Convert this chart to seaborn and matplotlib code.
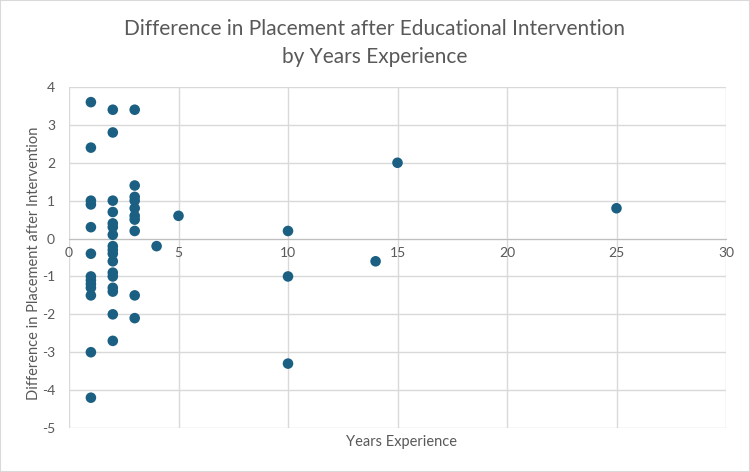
import seaborn as sns
import matplotlib.pyplot as plt
import pandas as pd

# data
years = [1] * 13 + [2] * 17 + [3] * 10 + [4, 5, 10, 10, 10, 14, 15, 25]
diff = [3.6, 2.4, 1.0, 0.9, 0.3, -0.4, -1.0, -1.1, -1.2, -1.3, -1.5, -3.0, -4.2,
        3.4, 2.8, 1.0, 0.7, 0.4, 0.3, 0.1, -0.2, -0.3, -0.4, -0.6, -0.9, -1.0, -1.3, -1.4, -2.0, -2.7,
        3.4, 1.4, 1.1, 1.0, 0.8, 0.6, 0.5, 0.2, -1.5, -2.1,
        -0.2, 0.6, 0.2, -1.0, -3.3, -0.6, 2.0, 0.8]
x_ticks = [0, 5, 10, 15, 20, 25, 30]
y_ticks = [4, 3, 2, 1, 0, -1, -2, -3, -4, -5]

df = pd.DataFrame({'years': years, 'diff': diff})

sns.set_style('white')
plt.rcParams['font.family'] = ['Lato', 'DejaVu Sans']

fig = plt.figure(figsize=(7.5, 4.72), dpi=100)
ax = fig.add_axes([0.092, 0.0932, 0.876, 0.7225])

sns.scatterplot(data=df, x='years', y='diff', ax=ax, color='#1b5f83',
                s=58, edgecolor='none', zorder=3)

ax.set_xlim(0, 30)
ax.set_ylim(-5, 4)
ax.set_xticks(x_ticks)
ax.set_yticks(y_ticks)
ax.grid(True, color='#d9d9d9', linewidth=1)
ax.set_axisbelow(True)

for s in ['top', 'right', 'left']:
    ax.spines[s].set_visible(False)
ax.spines['bottom'].set_position(('data', 0))
ax.spines['bottom'].set_color('#bfbfbf')
ax.spines['bottom'].set_zorder(2)

ax.tick_params(axis='both', length=0, labelsize=10, labelcolor='#595959')
ax.tick_params(axis='x', pad=6)
ax.tick_params(axis='y', pad=10)
ax.set_yticklabels([str(v) for v in y_ticks])

ax.set_xlabel('')
ax.set_ylabel('')
fig.text(0.045, 0.443, 'Difference in Placement after Intervention', rotation=90,
         ha='center', va='center', fontsize=10.5, color='#595959')
fig.text(0.536, 0.063, 'Years Experience', ha='center', va='center',
         fontsize=10.5, color='#595959')
fig.text(0.5, 0.908, 'Difference in Placement after Educational Intervention\nby Years Experience',
         ha='center', va='center', fontsize=15, color='#595959', linespacing=1.5)

fig.patches.append(plt.Rectangle((0, 0), 1, 1, transform=fig.transFigure,
                                 fill=False, edgecolor='#d9d9d9', linewidth=1.5))

fig.savefig('out.png', dpi=100)
